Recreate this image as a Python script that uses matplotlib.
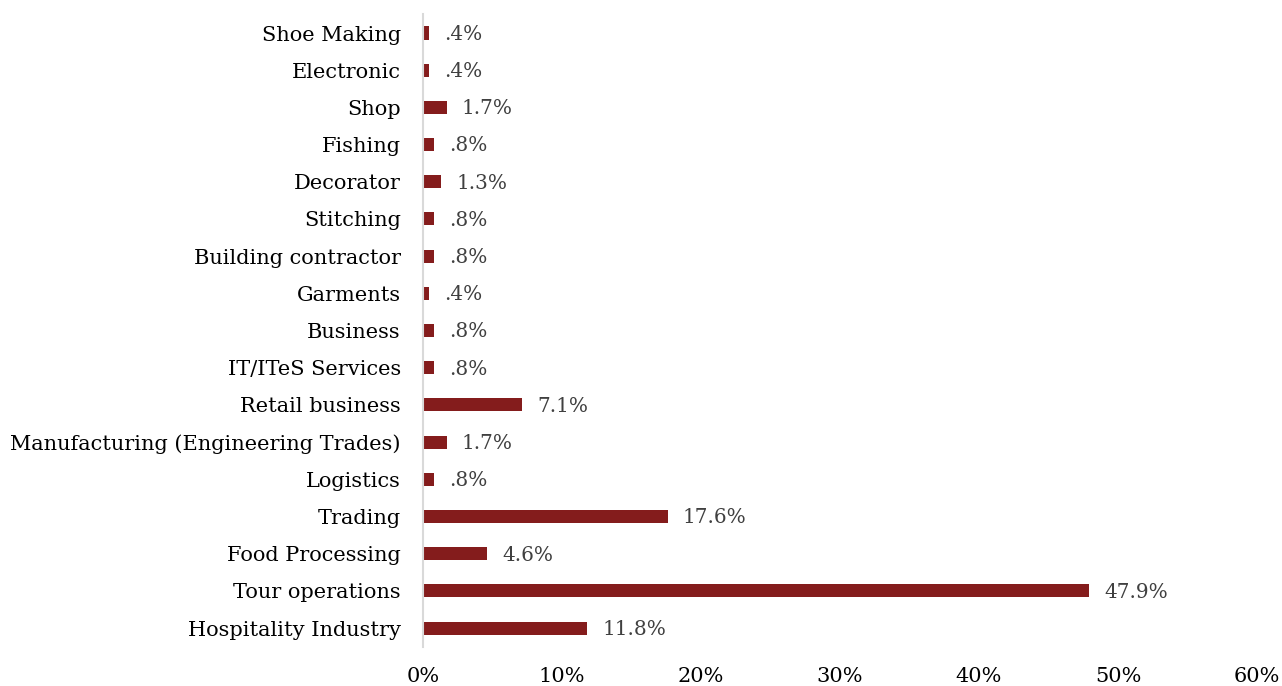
import matplotlib
matplotlib.use("Agg")
import matplotlib.pyplot as plt

sectors = ["Hospitality Industry", "Tour operations", "Food Processing", "Trading",
           "Logistics", "Manufacturing (Engineering Trades)", "Retail business",
           "IT/ITeS Services", "Business", "Garments", "Building contractor",
           "Stitching", "Decorator", "Fishing", "Shop", "Electronic", "Shoe Making"]
shares = [11.8, 47.9, 4.6, 17.6, 0.8, 1.7, 7.1, 0.8, 0.8, 0.4, 0.8, 0.8, 1.3, 0.8, 1.7, 0.4, 0.4]
xticks = [0, 10, 20, 30, 40, 50, 60]

plt.rcParams["font.family"] = ["DejaVu Serif"]

fig = plt.figure(figsize=(12.82, 6.86), dpi=100)
ax = fig.add_axes([0.33, 0.0574, 0.6505, 0.9216])

ypos = range(len(sectors))
ax.barh(ypos, shares, height=0.35, color="#841c1c")
for y, v in zip(ypos, shares):
    txt = f"{v:.1f}%".lstrip("0")
    ax.annotate(txt, (v, y), xytext=(11, -1), textcoords="offset points",
                va="center", ha="left", fontsize=14.4, color="#404040")

ax.set_xlim(0, 60)
ax.set_ylim(-0.5, len(sectors) - 0.5)
ax.set_yticks(list(ypos))
ax.set_yticklabels(sectors, fontsize=15, color="black")
ax.set_xticks(xticks)
ax.set_xticklabels([f"{t}%" for t in xticks], fontsize=15, color="black")
ax.tick_params(axis="both", length=0)
ax.tick_params(axis="x", pad=15)
ax.tick_params(axis="y", pad=16)

for side in ["top", "right", "bottom"]:
    ax.spines[side].set_visible(False)
ax.spines["left"].set_color("#d9d9d9")
ax.spines["left"].set_linewidth(1.5)

fig.savefig("out.png", dpi=100)
